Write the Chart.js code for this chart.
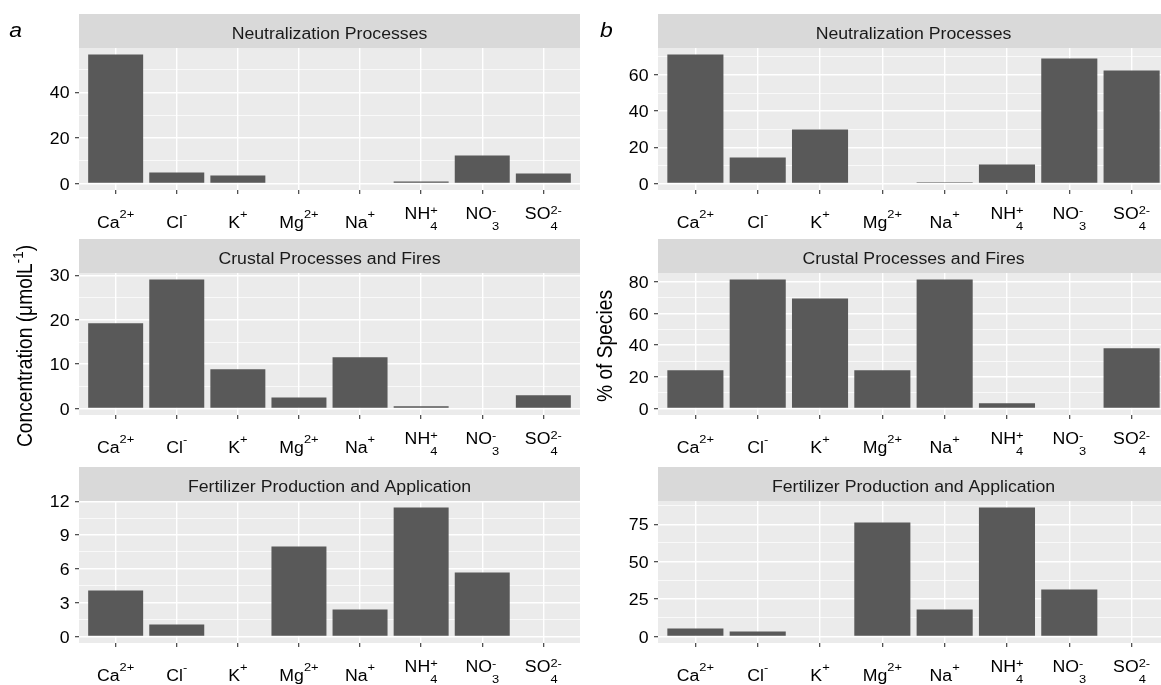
<!DOCTYPE html>
<html>
<head>
<meta charset="utf-8">
<script src="https://cdn.jsdelivr.net/npm/chart.js@4.4.0/dist/chart.umd.min.js"></script>
<style>
html, body { margin: 0; padding: 0; background: #fff; overflow: hidden; }
#wrap { position: relative; width: 1161px; height: 685px; overflow: hidden; }
#wrap canvas { position: absolute; }
</style>
</head>
<body>
<div id="wrap"></div>
<script>
// ions on the x axis (base text, subscript, superscript)
const ionBase = ['Ca', 'Cl', 'K', 'Mg', 'Na', 'NH', 'NO', 'SO'];
const ionSub  = ['', '', '', '', '', '4', '3', '4'];
const ionSup  = ['2+', '-', '+', '2+', '+', '+', '-', '2-'];

const sources = ['Neutralization Processes', 'Crustal Processes and Fires', 'Fertilizer Production and Application'];

// panel a : concentration (umol/L)
const concNeutral = [56.7, 4.8, 3.5, 0, 0, 0.9, 12.3, 4.4];
const concCrustal = [19.2, 29.1, 8.85, 2.5, 11.55, 0.5, 0, 3.0];
const concFert    = [4.08, 1.06, 0, 7.99, 2.4, 11.45, 5.68, 0];

// panel b : % of species
const pctNeutral = [71.3, 14.4, 29.8, 0, 0.7, 10.5, 69.1, 62.4];
const pctCrustal = [24.1, 81.5, 69.5, 24.1, 81.5, 3.3, 0, 38.0];
const pctFert    = [5.3, 3.3, 0, 76.2, 18.0, 86.2, 31.4, 0];

// y tick labels per facet
const concTicks = [[0, 20, 40], [0, 10, 20, 30], [0, 3, 6, 9, 12]];
const pctTicks  = [[0, 20, 40, 60], [0, 20, 40, 60, 80], [0, 25, 50, 75]];

const FONT = '"Liberation Sans", Arial, sans-serif';
const SX = 1.12;           // the figure's text is a bit wider than plain Arial
const TICK_FONT = '15.8px ' + FONT;
const SMALL_FONT = '11.5px ' + FONT;
const rowTop = [14, 239, 467];
const STRIP_H = 34, PANEL_H = 142, XAXIS_H = 45;
const cols = [
  {left: 0, width: 590, yAxisW: 79, plotW: 501, tag: 'a', title: 'Concentration (\u03bcmolL', titleSup: '-1', titleEnd: ')'},
  {left: 580, width: 600, yAxisW: 78, plotW: 511, tag: 'b', title: '% of Species', titleSup: '', titleEnd: ''}
];

function stretchText(ctx, txt, x, y, font, align) {
  ctx.save();
  ctx.font = font;
  ctx.textAlign = align || 'left';
  ctx.textBaseline = 'alphabetic';
  ctx.translate(x, y);
  ctx.scale(SX, 1);
  ctx.fillText(txt, 0, 0);
  ctx.restore();
}
function textW(ctx, txt, font) {
  ctx.save();
  ctx.font = font;
  const w = ctx.measureText(txt).width * SX;
  ctx.restore();
  return w;
}

const facetDecor = {
  id: 'facetDecor',
  beforeDraw(chart, args, opts) {
    const ctx = chart.ctx, a = chart.chartArea;
    ctx.save();
    ctx.fillStyle = '#EBEBEB';
    ctx.fillRect(a.left, a.top, a.right - a.left, a.bottom - a.top);
    ctx.fillStyle = '#D9D9D9';
    ctx.fillRect(a.left, a.top - STRIP_H, a.right - a.left, STRIP_H);
    ctx.fillStyle = '#1A1A1A';
    stretchText(ctx, opts.strip, (a.left + a.right) / 2, a.top - STRIP_H + 25, TICK_FONT, 'center');
    ctx.restore();
  },
  afterDraw(chart, args, opts) {
    const ctx = chart.ctx, a = chart.chartArea;
    const xs = chart.scales.x, ys = chart.scales.y;
    ctx.save();
    ctx.fillStyle = '#000';
    // y tick labels
    opts.major.forEach(v => {
      const py = ys.getPixelForValue(v);
      stretchText(ctx, String(v), a.left - 9.5, py + 6, TICK_FONT, 'right');
    });
    // x tick labels with sub / superscripts
    ionBase.forEach((b, i) => {
      const px = xs.getPixelForValue(i + 1);
      const bw = textW(ctx, b, TICK_FONT);
      const sw = Math.max(textW(ctx, ionSub[i], SMALL_FONT), textW(ctx, ionSup[i], SMALL_FONT));
      const x0 = px - (bw + sw) / 2;
      const hasSub = ionSub[i] !== '';
      const base = a.bottom + (hasSub ? 29.3 : 37.5);
      stretchText(ctx, b, x0, base, TICK_FONT);
      if (hasSub) stretchText(ctx, ionSub[i], x0 + bw, base + 10.7, SMALL_FONT);
      stretchText(ctx, ionSup[i], x0 + bw, base - (hasSub ? 5 : 10), SMALL_FONT);
    });
    // y axis title (middle row only)
    if (opts.title) {
      const cy = (a.top + a.bottom) / 2 + 2;
      const tf = '19.2px ' + FONT, sf = '13.4px ' + FONT;
      ctx.font = tf;
      const w1 = ctx.measureText(opts.title.text).width;
      const w3 = ctx.measureText(opts.title.end).width;
      ctx.font = sf;
      const w2 = ctx.measureText(opts.title.sup).width;
      ctx.translate(32, cy);
      ctx.scale(SX, 1);
      ctx.rotate(-Math.PI / 2);
      ctx.textBaseline = 'alphabetic';
      ctx.textAlign = 'left';
      const s = -(w1 + w2 + w3) / 2;
      ctx.font = tf;
      ctx.fillText(opts.title.text, s, 0);
      ctx.font = sf;
      ctx.fillText(opts.title.sup, s + w1, -8);
      ctx.font = tf;
      ctx.fillText(opts.title.end, s + w1 + w2, 0);
      ctx.setTransform(1, 0, 0, 1, 0, 0);
    }
    // panel tag
    if (opts.tag) {
      stretchText(ctx, opts.tag.text, opts.tag.x, 23, 'italic 20.5px ' + FONT);
    }
    ctx.restore();
  }
};

function minorTicks(major, lo, hi) {
  const step = major[1] - major[0];
  const all = [major[0] - step / 2].concat(major.map(v => v + step / 2));
  return all.filter(v => v > lo && v < hi);
}

function makePanel(col, row, values, major) {
  const c = cols[col];
  const canvas = document.createElement('canvas');
  const h = STRIP_H + PANEL_H + XAXIS_H;
  canvas.width = c.width;
  canvas.height = h;
  canvas.style.left = c.left + 'px';
  canvas.style.top = (rowTop[row] - STRIP_H + STRIP_H) + 'px';
  canvas.style.top = rowTop[row] + 'px';
  document.getElementById('wrap').appendChild(canvas);

  const top = Math.max(...values);
  const yMin = -0.05 * top, yMax = 1.05 * top;
  const minor = minorTicks(major, yMin, yMax);
  const allTicks = major.concat(minor).sort((p, q) => p - q);
  const isMajor = v => major.indexOf(v) >= 0;

  new Chart(canvas, {
    type: 'bar',
    data: {
      datasets: [{
        data: values.map((v, i) => ({x: i + 1, y: v})),
        backgroundColor: '#595959',
        borderWidth: 0,
        barPercentage: 0.9,
        categoryPercentage: 1.0
      }]
    },
    options: {
      responsive: false,
      animation: false,
      devicePixelRatio: 1,
      layout: {padding: {top: STRIP_H, right: c.width - c.yAxisW - c.plotW, left: 0, bottom: 0}},
      plugins: {
        legend: false,
        tooltip: {enabled: false},
        facetDecor: {
          strip: sources[row],
          major: major,
          title: row === 1 ? {text: c.title, sup: c.titleSup, end: c.titleEnd} : null,
          tag: row === 0 ? {text: c.tag, x: col === 0 ? 9.3 : 20} : null
        }
      },
      scales: {
        x: {
          type: 'linear',
          min: 0.4,
          max: 8.6,
          offset: false,
          afterBuildTicks: s => { s.ticks = ionBase.map((_, i) => ({value: i + 1})); },
          afterFit: s => { s.height = XAXIS_H; },
          ticks: {display: false, autoSkip: false},
          grid: {offset: false, color: '#FFFFFF', lineWidth: 1.4, tickColor: '#333333', tickLength: 4, tickWidth: 1.1},
          border: {display: false}
        },
        y: {
          min: yMin,
          max: yMax,
          afterBuildTicks: s => { s.ticks = allTicks.map(v => ({value: v})); },
          afterFit: s => { s.width = c.yAxisW; },
          ticks: {display: false},
          grid: {
            color: '#FFFFFF',
            lineWidth: ctx => isMajor(ctx.tick.value) ? 1.4 : 0.7,
            tickColor: ctx => isMajor(ctx.tick.value) ? '#333333' : 'rgba(0,0,0,0)',
            tickLength: 4,
            tickWidth: 1.1
          },
          border: {display: false}
        }
      }
    },
    plugins: [facetDecor]
  });
}

makePanel(0, 0, concNeutral, concTicks[0]);
makePanel(0, 1, concCrustal, concTicks[1]);
makePanel(0, 2, concFert, concTicks[2]);
makePanel(1, 0, pctNeutral, pctTicks[0]);
makePanel(1, 1, pctCrustal, pctTicks[1]);
makePanel(1, 2, pctFert, pctTicks[2]);
</script>
</body>
</html>
